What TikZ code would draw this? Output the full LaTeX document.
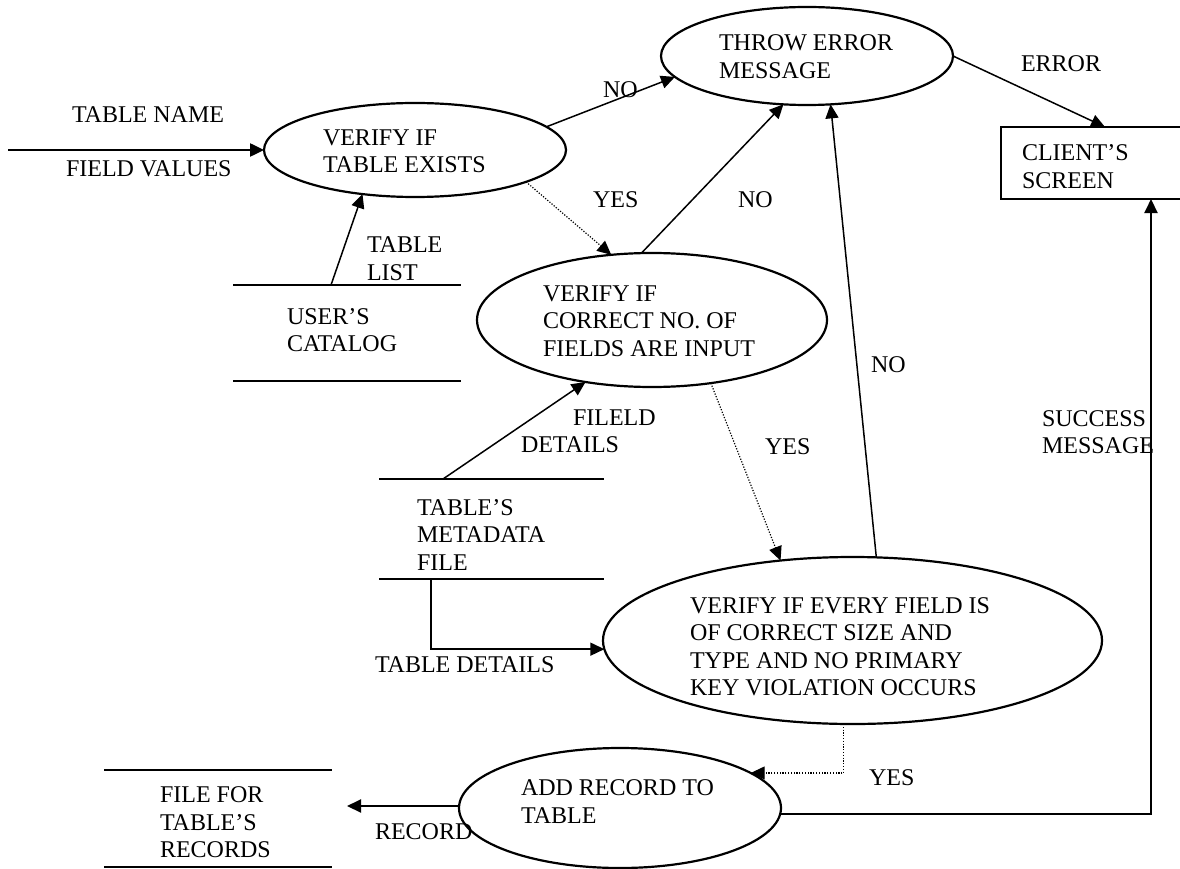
\documentclass[tikz,border=0pt]{standalone}
\usepackage{fontspec}
\setmainfont{Liberation Serif}
\usetikzlibrary{arrows.meta,shapes.geometric,calc}
\begin{document}
\begin{tikzpicture}[x=1pt,y=-1pt,
  every node/.style={font=\fontsize{24}{27.5}\selectfont, inner sep=0pt, outer sep=0pt},
  txt/.style={anchor=west, align=left},
  proc/.style={draw, ellipse, line width=2.2pt},
  arr/.style={line width=1.5pt, -{Triangle[length=14pt,width=13pt]}},
  dot/.style={line width=1.2pt, dash pattern=on 1.2pt off 1.6pt, -{Triangle[length=14pt,width=13pt]}},
  storeline/.style={line width=2pt}]
\useasboundingbox (0,0) rectangle (1180,869);
\clip (0,0) rectangle (1180,869);

% processes
\node[proc, minimum width=292pt, minimum height=98pt] (e0) at (807,56) {};
\node[proc, minimum width=302pt, minimum height=94pt] (e1) at (415,150) {};
\node[proc, minimum width=350pt, minimum height=134pt] (e2) at (652,320) {};
\node[proc, minimum width=499pt, minimum height=167pt] (e3) at (852.5,640.5) {};
\node[proc, minimum width=322pt, minimum height=120pt] (e4) at (620,808) {};
\node[draw, line width=2pt, minimum width=184pt, minimum height=72pt] (client) at (1093,163) {};

% data stores
\draw[storeline] (233,285) -- (461,285) (233,381) -- (461,381);
\draw[storeline] (379,479) -- (604,479) (379,579) -- (604,579);
\draw[storeline] (104,770) -- (332,770) (104,867) -- (332,867);

% texts
\node[txt] (t0) at (719,56.5) {THROW ERROR\\MESSAGE};
\node[txt] (t1) at (323,151.5) {VERIFY IF\\TABLE EXISTS};
\node[txt] (t2) at (543,321) {VERIFY IF\\CORRECT NO. OF\\FIELDS ARE INPUT};
\node[txt] (t3) at (690,646.5) {VERIFY IF EVERY FIELD IS\\OF CORRECT SIZE AND\\TYPE AND NO PRIMARY\\KEY VIOLATION OCCURS};
\node[txt] (t4) at (521,801.5) {ADD RECORD TO\\TABLE};
\node[txt] (tclient) at (1022,166.5) {CLIENT’S\\SCREEN};
\node[txt] (tusers) at (287,330) {USER’S\\CATALOG};
\node[txt] (tmeta) at (417,535) {TABLE’S\\METADATA\\FILE};
\node[txt] (tfile) at (160,822.5) {FILE FOR\\TABLE’S\\RECORDS};

\node[txt] (tname) at (72,115) {TABLE NAME};
\node[txt] (fvals) at (66,169) {FIELD VALUES};
\node[txt] (lno1) at (603,90) {NO};
\node[txt] (lerr) at (1021,64) {ERROR};
\node[txt] (lyes1) at (593,200) {YES};
\node[txt] (lno2) at (738,200) {NO};
\node[txt] (ltl) at (367,258.5) {TABLE\\LIST};
\node[txt] (lno3) at (871,365) {NO};
\node[txt] (lsucc) at (1042,432) {SUCCESS\\MESSAGE};
\node[txt] (lfd) at (521,431.5) {\hspace*{52pt}FILELD\\DETAILS};
\node[txt] (lyes2) at (765,447) {YES};
\node[txt] (ltd) at (375,665) {TABLE DETAILS};
\node[txt] (lyes3) at (869,778) {YES};
\node[txt] (lrec) at (375,832) {RECORD};

% connectors
\coordinate (inp) at (8,150);
\coordinate (tl) at (331,285);
\coordinate (fd) at (443,479);
\coordinate (mdb) at (431,579);
\coordinate (rec) at (347,806);

\draw[arr, line width=2.5pt] (inp) -- (e1.west);
\draw[arr] (e1.10.5) -- (e0.189.5);
\draw[arr] (e0.east) -- ([xshift=12pt]client.north);
\draw[dot] (e1.344.25) -- (e2.122.2);
\draw[arr] (e2.99.3) -- (e0.244.9);
\draw[arr] (e3.74.3) -- (e0.296.1);
\draw[arr] (tl) -- (e1.220.3);
\draw[arr] (fd) -- (e2.223.7);
\draw[dot] (e2.313.3) -- (e3.132.8);
\draw[arr] (mdb) |- (e3.182.4);
\draw[dot] (e3.264) |- (e4.15);
\draw[arr, line width=2pt] (rec -| e4.west) -- (rec);
\draw[arr, line width=2pt] (e4.358.2) -| ([xshift=58pt]client.south);
\end{tikzpicture}
\end{document}
